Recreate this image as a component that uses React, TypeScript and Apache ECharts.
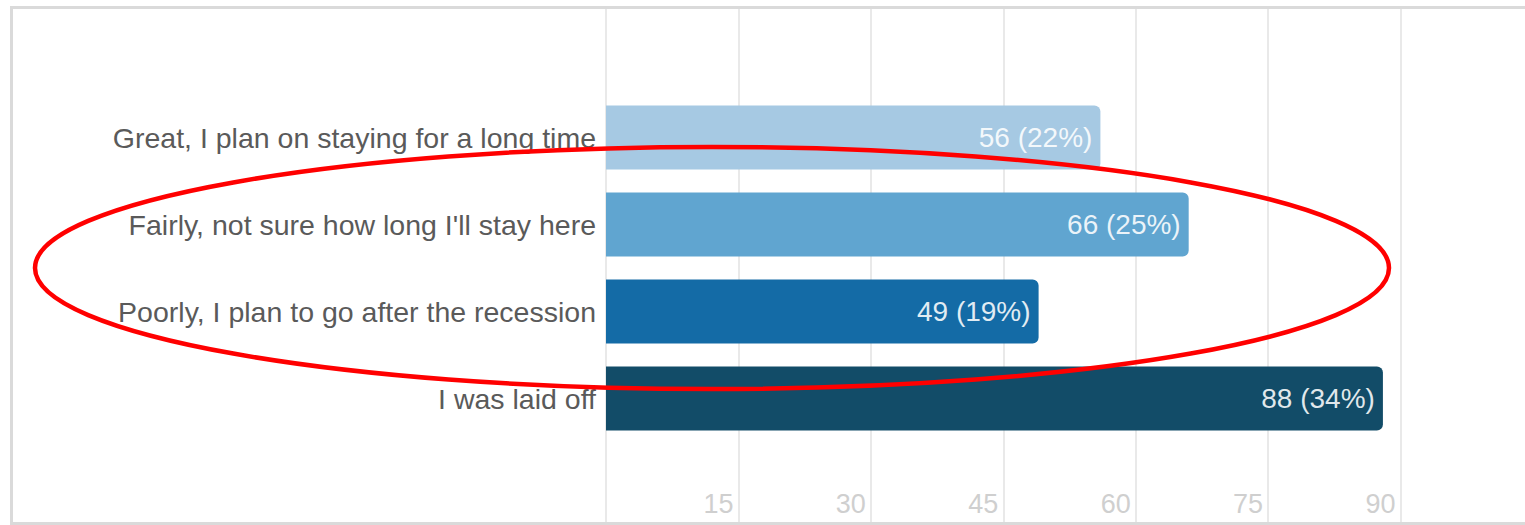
import React, { useEffect, useRef } from "react";
import * as echarts from "echarts";

const categories = [
  "Great, I plan on staying for a long time",
  "Fairly, not sure how long I'll stay here",
  "Poorly, I plan to go after the recession",
  "I was laid off",
];
const counts = [56, 66, 49, 88];
const percents = [22, 25, 19, 34];
const barColors = ["#a6c9e3", "#60a5d0", "#146ba6", "#124c68"];
const axisMin = 0;
const axisMax = 105;
const axisStep = 15;

const FONT = "'Liberation Sans', Arial, Helvetica, sans-serif";

export default function App() {
  const ref = useRef<HTMLDivElement>(null);
  useEffect(() => {
    if (!ref.current) return;
    const chart = echarts.init(ref.current, undefined, { renderer: "svg" });
    const gridLeft = 606;
    const gridWidth = 927;
    chart.setOption({
      animation: false,
      backgroundColor: "#ffffff",
      textStyle: { fontFamily: FONT },
      grid: [
        { left: gridLeft, width: gridWidth, top: 9, bottom: 2, containLabel: false, outerBoundsMode: "none" },
        { left: gridLeft, width: gridWidth, top: 94, bottom: 83, containLabel: false, outerBoundsMode: "none" },
      ],
      xAxis: [
        {
          type: "value",
          gridIndex: 0,
          min: axisMin,
          max: axisMax,
          interval: axisStep,
          axisLine: { show: false },
          axisTick: { show: false },
          splitLine: { show: true, lineStyle: { color: "#e2e2e2", width: 1.5 } },
          axisLabel: {
            inside: true,
            margin: 6,
            align: "right",
            padding: [0, 5, 0, 0],
            color: "#cfcfcf",
            fontSize: 27,
            fontFamily: FONT,
            formatter: (v: number) => (v === 0 || v > 90 ? "" : String(v)),
          },
        },
        {
          type: "value",
          gridIndex: 1,
          min: axisMin,
          max: axisMax,
          interval: axisStep,
          show: false,
          splitLine: { show: false },
        },
      ],
      yAxis: [
        {
          type: "value",
          gridIndex: 0,
          show: false,
          splitLine: { show: false },
        },
        {
          type: "category",
          gridIndex: 1,
          data: categories,
          inverse: true,
          axisLine: { show: false },
          axisTick: { show: false },
          splitLine: { show: false },
          axisLabel: {
            color: "#5a5a5a",
            fontSize: 28.5,
            margin: 10,
            fontFamily: FONT,
          },
        },
      ],
      series: [
        {
          type: "bar",
          xAxisIndex: 1,
          yAxisIndex: 1,
          barWidth: 64,
          data: counts.map((v, i) => ({
            value: v,
            itemStyle: { color: barColors[i], borderRadius: [0, 6, 6, 0] },
          })),
          label: {
            show: true,
            position: "insideRight",
            distance: 8,
            color: "rgba(255,255,255,0.88)",
            fontSize: 28,
            fontFamily: FONT,
            formatter: (p: any) => `${counts[p.dataIndex]} (${percents[p.dataIndex]}%)`,
          },
        },
      ],
      graphic: [
        {
          type: "rect",
          z: 100,
          shape: { x: 11.5, y: 7.5, width: 1600, height: 516 },
          style: { fill: "none", stroke: "#dadada", lineWidth: 3 },
          silent: true,
        },
        {
          type: "ellipse",
          z: 200,
          shape: { cx: 712, cy: 268, rx: 677, ry: 121 },
          style: { fill: "none", stroke: "#ff0000", lineWidth: 4.5 },
          silent: true,
        },
      ],
    });
    return () => chart.dispose();
  }, []);
  return (
    <div
      ref={ref}
      style={{ position: "fixed", left: 0, top: 0, width: 1525, height: 525, background: "#fff" }}
    />
  );
}
